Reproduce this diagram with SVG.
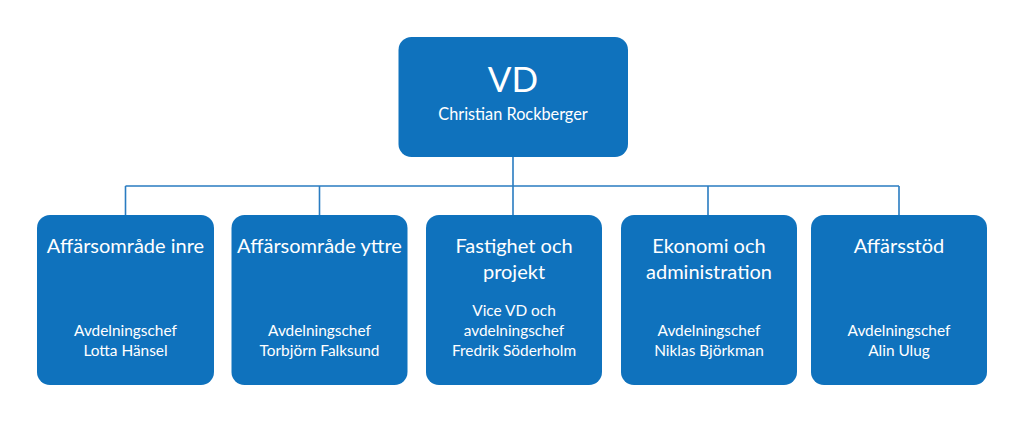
<svg xmlns="http://www.w3.org/2000/svg" width="1024" height="423" viewBox="0 0 1024 423">
<style>
.box{fill:#0F72BD}
.t{font-family:Lato,"Open Sans","Liberation Sans",sans-serif;fill:#fff;text-anchor:middle}
.h{font-size:20px}
.s{font-size:15.4px}
.c{stroke:#2A7CC1;stroke-width:1.6;fill:none}
</style>
<rect width="1024" height="423" fill="#fff"/>
<g id="connectors">
<path class="c" d="M513 157V186M125.5 186H899M125.5 186V215M319.5 186V215M513 186V215M708 186V215M899 186V215"/>
</g>
<g id="vd">
<rect class="box" x="398.5" y="37" width="229.5" height="120" rx="13"/>
<text class="t" x="513" y="92" font-size="35">VD</text>
<text class="t" x="513" y="120" font-size="16.3">Christian Rockberger</text>
</g>
<g id="n1">
<rect class="box" x="37" y="215" width="177" height="170" rx="13"/>
<text class="t h" x="125.5" y="253">Affärsområde inre</text>
<text class="t s" x="125.5" y="336">Avdelningschef</text>
<text class="t s" x="125.5" y="356">Lotta Hänsel</text>
</g>
<g id="n2">
<rect class="box" x="231.5" y="215" width="176" height="170" rx="13"/>
<text class="t h" x="319.5" y="253">Affärsområde yttre</text>
<text class="t s" x="319.5" y="336">Avdelningschef</text>
<text class="t s" x="319.5" y="356">Torbjörn Falksund</text>
</g>
<g id="n3">
<rect class="box" x="426" y="215" width="176" height="170" rx="13"/>
<text class="t h" x="514" y="253">Fastighet och</text>
<text class="t h" x="514" y="279">projekt</text>
<text class="t s" x="514" y="316">Vice VD och</text>
<text class="t s" x="514" y="336">avdelningschef</text>
<text class="t s" x="514" y="356">Fredrik Söderholm</text>
</g>
<g id="n4">
<rect class="box" x="621" y="215" width="176" height="170" rx="13"/>
<text class="t h" x="709" y="253">Ekonomi och</text>
<text class="t h" x="709" y="279">administration</text>
<text class="t s" x="709" y="336">Avdelningschef</text>
<text class="t s" x="709" y="356">Niklas Björkman</text>
</g>
<g id="n5">
<rect class="box" x="811" y="215" width="176" height="170" rx="13"/>
<text class="t h" x="899" y="253">Affärsstöd</text>
<text class="t s" x="899" y="336">Avdelningschef</text>
<text class="t s" x="899" y="356">Alin Ulug</text>
</g>
</svg>
